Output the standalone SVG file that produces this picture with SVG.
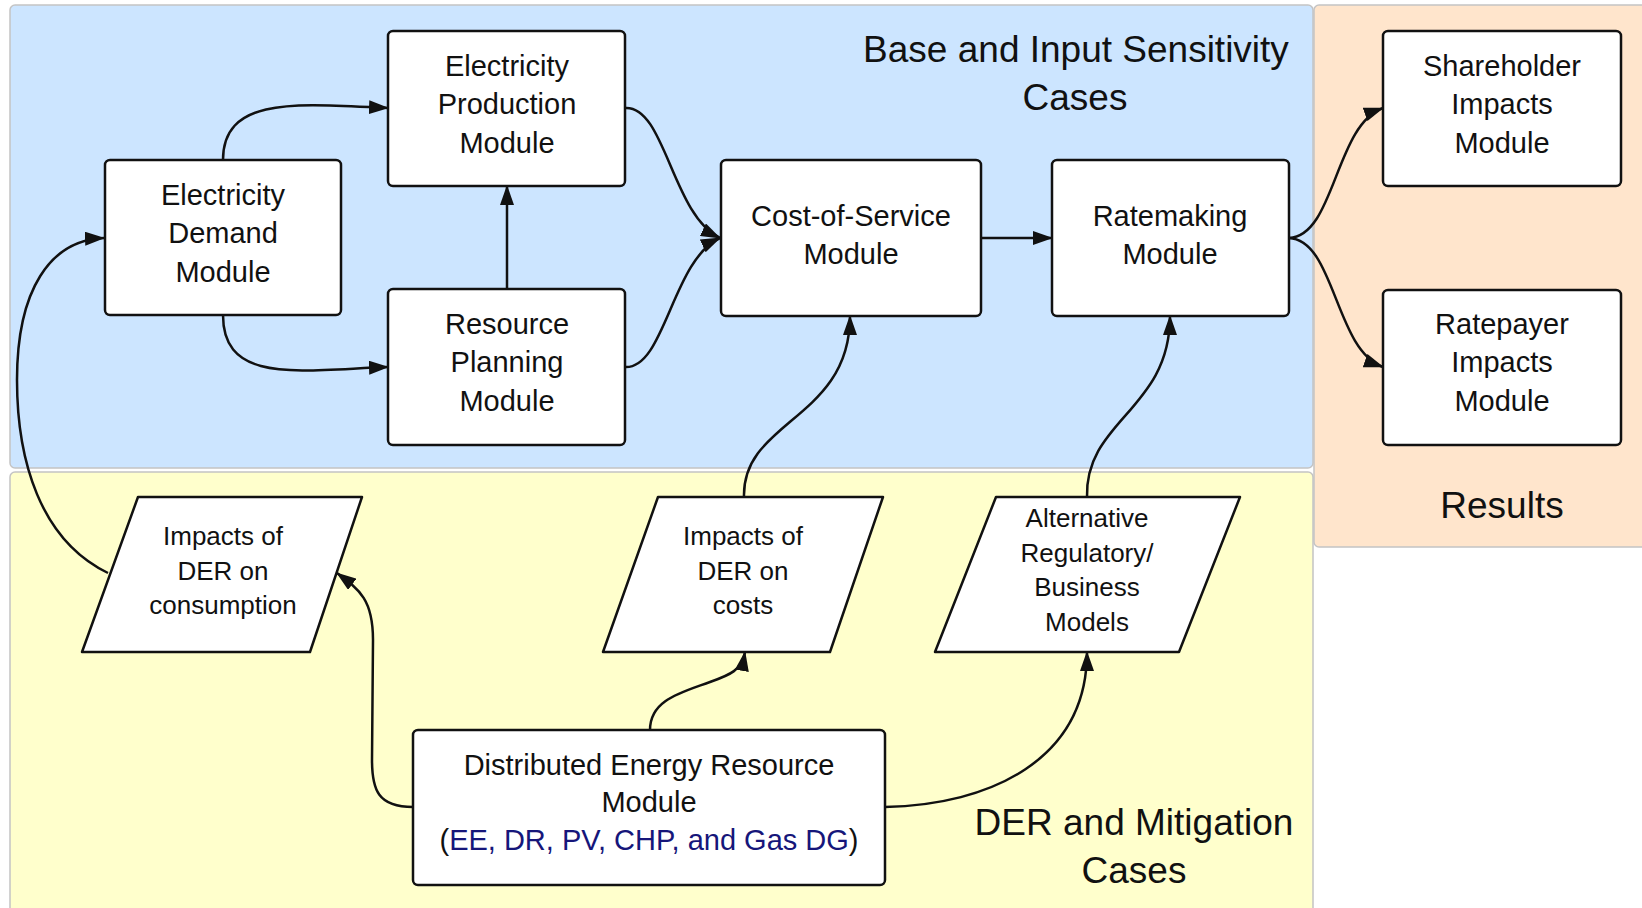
<svg xmlns="http://www.w3.org/2000/svg" width="1642" height="908" viewBox="0 0 1642 908">
<defs>
<style>
.panel{stroke:#c4c4c4;stroke-width:1.5}
.node{fill:#fff;stroke:#111;stroke-width:2.5;stroke-linejoin:round}
.t{font-family:"Liberation Sans",Arial,sans-serif;font-size:29px;fill:#111;text-anchor:middle}
.p{font-family:"Liberation Sans",Arial,sans-serif;font-size:26px;fill:#111;text-anchor:middle}
.h{font-family:"Liberation Sans",Arial,sans-serif;font-size:37px;fill:#111;text-anchor:middle}
.c{fill:none;stroke:#111;stroke-width:2.5;marker-end:url(#arr)}
.blue{fill:#16167a}
</style>
<marker id="arr" markerUnits="userSpaceOnUse" markerWidth="20" markerHeight="14" viewBox="0 0 20 14" refX="19" refY="7" orient="auto">
<path d="M0,0 L20,7 L0,14 z" fill="#111"/>
</marker>
</defs>
<rect width="1642" height="908" fill="#fff"/>
<g id="panels">
<rect class="panel" x="10" y="5" width="1303" height="463" rx="5" fill="#cce5ff"/>
<rect class="panel" x="10" y="472" width="1303" height="445" rx="5" fill="#ffffcc"/>
<rect class="panel" x="1314" y="5" width="335" height="542" rx="5" fill="#ffe5cc"/>
<text class="h" x="1076" y="62">Base and Input Sensitivity</text>
<text class="h" x="1075" y="110">Cases</text>
<text class="h" x="1502" y="518">Results</text>
<text class="h" x="1134" y="835">DER and Mitigation</text>
<text class="h" x="1134" y="883">Cases</text>
</g>
<g id="connectors">
<path class="c" d="M223,160 C223,95 300,104 388,108"/>
<path class="c" d="M223,315 C223,385 300,370 388,367"/>
<path class="c" d="M507,289 L507,186"/>
<path class="c" d="M625,108 C665,105 672,215 720,238"/>
<path class="c" d="M625,367 C665,369 672,260 720,238"/>
<path class="c" d="M981,238 L1052,238"/>
<path class="c" d="M1289,238 C1335,236 1335,125 1383,108"/>
<path class="c" d="M1289,238 C1335,240 1335,350 1383,367"/>
<path class="c" d="M108,573 C40,540 17,460 17,380 C17,290 50,240 104,238"/>
<path class="c" d="M413,807 C378,807 372,790 372,760 L373,640 C373,600 360,590 337,573"/>
<path class="c" d="M650,730 C650,700 680,693 710,682 C730,675 742,670 745,652"/>
<path class="c" d="M885,807 C990,805 1087,760 1087,652"/>
<path class="c" d="M744,497 C742,420 850,420 850,316"/>
<path class="c" d="M1087,497 C1085,420 1170,410 1170,316"/>
</g>
<g id="demand">
<rect class="node" x="105" y="160" width="236" height="155" rx="5"/>
<text class="t" x="223" y="205">Electricity</text>
<text class="t" x="223" y="243">Demand</text>
<text class="t" x="223" y="282">Module</text>
</g>
<g id="production">
<rect class="node" x="388" y="31" width="237" height="155" rx="5"/>
<text class="t" x="507" y="76">Electricity</text>
<text class="t" x="507" y="114">Production</text>
<text class="t" x="507" y="153">Module</text>
</g>
<g id="planning">
<rect class="node" x="388" y="289" width="237" height="156" rx="5"/>
<text class="t" x="507" y="334">Resource</text>
<text class="t" x="507" y="372">Planning</text>
<text class="t" x="507" y="411">Module</text>
</g>
<g id="cost">
<rect class="node" x="721" y="160" width="260" height="156" rx="5"/>
<text class="t" x="851" y="226">Cost-of-Service</text>
<text class="t" x="851" y="264">Module</text>
</g>
<g id="ratemaking">
<rect class="node" x="1052" y="160" width="237" height="156" rx="5"/>
<text class="t" x="1170" y="226">Ratemaking</text>
<text class="t" x="1170" y="264">Module</text>
</g>
<g id="shareholder">
<rect class="node" x="1383" y="31" width="238" height="155" rx="5"/>
<text class="t" x="1502" y="76">Shareholder</text>
<text class="t" x="1502" y="114">Impacts</text>
<text class="t" x="1502" y="153">Module</text>
</g>
<g id="ratepayer">
<rect class="node" x="1383" y="290" width="238" height="155" rx="5"/>
<text class="t" x="1502" y="334">Ratepayer</text>
<text class="t" x="1502" y="372">Impacts</text>
<text class="t" x="1502" y="411">Module</text>
</g>
<g id="consumption">
<path class="node" d="M138,497 L362,497 L310,652 L82,652 Z"/>
<text class="p" x="223" y="545">Impacts of</text>
<text class="p" x="223" y="580">DER on</text>
<text class="p" x="223" y="614">consumption</text>
</g>
<g id="costs">
<path class="node" d="M658,497 L883,497 L830,652 L603,652 Z"/>
<text class="p" x="743" y="545">Impacts of</text>
<text class="p" x="743" y="580">DER on</text>
<text class="p" x="743" y="614">costs</text>
</g>
<g id="alternative">
<path class="node" d="M996,497 L1240,497 L1179,652 L935,652 Z"/>
<text class="p" x="1087" y="527">Alternative</text>
<text class="p" x="1087" y="562">Regulatory/</text>
<text class="p" x="1087" y="596">Business</text>
<text class="p" x="1087" y="631">Models</text>
</g>
<g id="der">
<rect class="node" x="413" y="730" width="472" height="155" rx="5"/>
<text class="t" x="649" y="775">Distributed Energy Resource</text>
<text class="t" x="649" y="812">Module</text>
<text class="t" x="649" y="850">(<tspan class="blue">EE, DR, PV, CHP, and Gas DG</tspan>)</text>
</g>
</svg>
